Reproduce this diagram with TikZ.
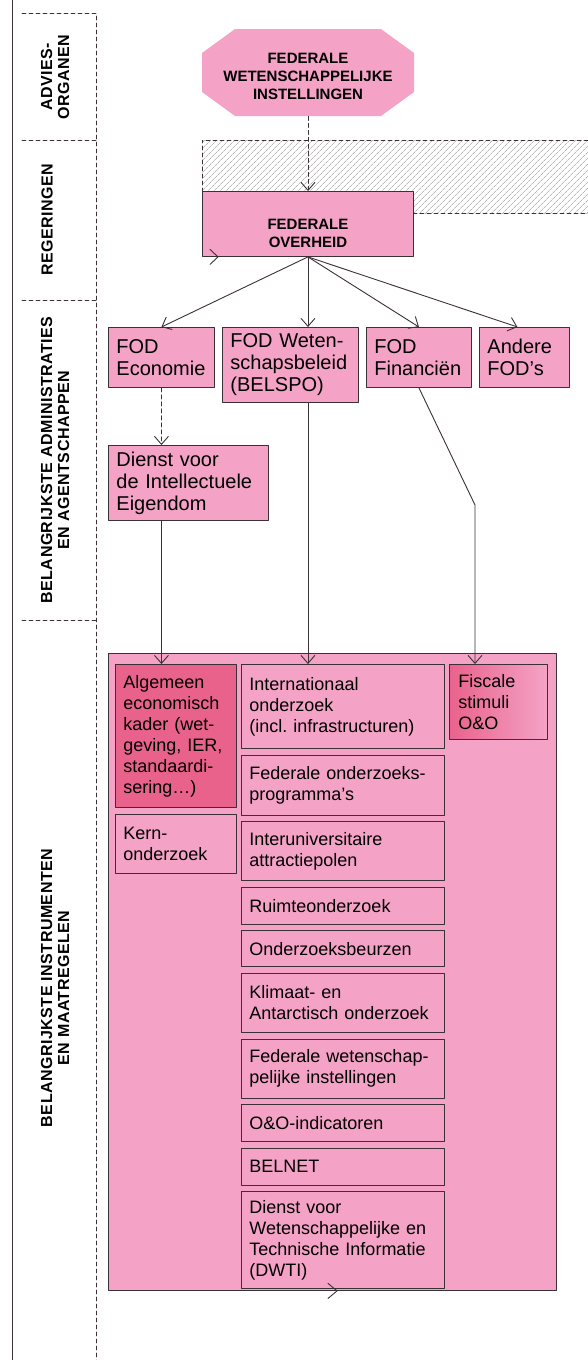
\documentclass[tikz,border=0pt]{standalone}
\usepackage{fontspec}
\setmainfont{Liberation Sans}
\newfontfamily\spacedfont[LetterSpace=3]{Liberation Sans}
\usepackage{tikz}
\usetikzlibrary{arrows.meta}
\usetikzlibrary{patterns.meta}
\usetikzlibrary{positioning}
\frenchspacing

\definecolor{lpink}{HTML}{F4A3C6}
\definecolor{dpink}{HTML}{E9628C}
\definecolor{lijn}{HTML}{3A3035}

\tikzset{
  side/.style={rotate=90,align=center,font=\spacedfont\bfseries\fontsize{16}{17}\selectfont},
  head/.style={align=center,font=\bfseries\fontsize{15}{18}\selectfont},
  fod/.style={draw=lijn,fill=lpink,anchor=north west,align=left,inner xsep=8pt,inner ysep=0pt,font=\fontsize{20}{22}\selectfont},
  ibox/.style={draw=lijn,fill=lpink,anchor=north west,align=left,inner xsep=8pt,inner ysep=0pt,font=\fontsize{18}{21}\selectfont},
  dashln/.style={dash pattern=on 4pt off 3pt}
}

\begin{document}
\begin{tikzpicture}[line cap=round,line join=round,line width=0.9pt,>={Straight Barb[length=8pt,width=14pt]},x=1pt,y=-1pt]
\useasboundingbox (0,0) rectangle (588,1360);
% kolom met niveaus
\draw[lijn] (12,0) -- (12,1360);
\draw[lijn,dashln] (22,13) -- (96,13) -- (96,1360);
\foreach \y in {140,300,620}
  \draw[lijn,dashln] (22,\y) -- (96,\y);
\node[side] (advies) at (55,77) {ADVIES-\\ORGANEN};
\node[side] (reg) at (47,220) {REGERINGEN};
\node[side] (adm) at (55,460) {BELANGRIJKSTE ADMINISTRATIES\\EN AGENTSCHAPPEN};
\node[side] (maatr) at (55,988) {BELANGRIJKSTE INSTRUMENTEN\\EN MAATREGELEN};

% gearceerde zone
\fill[pattern={Lines[angle=45,distance=4pt,line width=0.7pt]},pattern color=black!28] (202,140) rectangle (588,213);
\draw[lijn,dashln] (588,140) -- (202,140) -- (202,191);
\draw[lijn,dashln] (413,213) -- (588,213);

% adviesorgaan (achthoek)
\fill[lpink] (202,53) -- (235,29) -- (381,29) -- (414,53) -- (414,92) -- (381,116) -- (235,116) -- (202,92) -- cycle;
\node[head,minimum width=212pt,minimum height=80pt,inner sep=0pt] (fwi) at (308,76) {FEDERALE\\WETENSCHAPPELIJKE\\INSTELLINGEN};
\node[draw=lijn,fill=lpink,minimum width=211pt,minimum height=65pt,anchor=north west,label={[head,yshift=-9pt]center:{FEDERALE\\OVERHEID}}] (fo) at (202,191) {};

% administraties
\node[fod,text width=90pt,minimum height=60pt] (feco) at (108,327) {FOD\\Economie};
\node[fod,text width=120pt,minimum height=75pt] (fbel) at (222,327) {FOD Weten-\\schapsbeleid\\(BELSPO)};
\node[fod,text width=89pt,minimum height=60pt] (ffin) at (366,327) {FOD\\Financiën};
\node[fod,text width=74pt,minimum height=60pt] (fand) at (479,327) {Andere\\FOD’s};
\node[fod,text width=144pt,minimum height=75pt] (dienst) at (108,445) {Dienst voor\\de Intellectuele\\Eigendom};

% instrumenten
\node[draw=lijn,fill=lpink,anchor=north west,minimum width=448pt,minimum height=637pt] (instr) at (108,653) {};
\node[ibox,fill=dpink,text width=105pt,minimum height=143pt] (alg) at (115,664) {Algemeen\\economisch\\kader (wet-\\geving, IER,\\standaardi-\\sering…)};
\node[ibox,text width=105pt,minimum height=59pt,below=6pt of alg] (kern) {Kern-\\onderzoek};
\node[ibox,text width=187pt,minimum height=84pt] (intl) at (241,664) {Internationaal\\onderzoek\\(incl. infrastructuren)};
\node[ibox,text width=187pt,minimum height=60pt,below=5.7pt of intl] (fedprog) {Federale onderzoeks-\\programma’s};
\node[ibox,text width=187pt,minimum height=59pt,below=5.7pt of fedprog] (iap) {Interuniversitaire\\attractiepolen};
\node[ibox,text width=187pt,minimum height=37pt,below=5.7pt of iap] (ruimte) {Ruimteonderzoek};
\node[ibox,text width=187pt,minimum height=36pt,below=5.7pt of ruimte] (beurzen) {Onderzoeksbeurzen};
\node[ibox,text width=187pt,minimum height=59pt,below=5.7pt of beurzen] (klimaat) {Klimaat- en\\Antarctisch onderzoek};
\node[ibox,text width=187pt,minimum height=59pt,below=5.7pt of klimaat] (fwinst) {Federale wetenschap-\\pelijke instellingen};
\node[ibox,text width=187pt,minimum height=37pt,below=5.7pt of fwinst] (indic) {O\&O-indicatoren};
\node[ibox,text width=187pt,minimum height=37pt,below=5.7pt of indic] (belnet) {BELNET};
\node[ibox,text width=187pt,minimum height=97pt,below=5.7pt of belnet] (dwti) {Dienst voor\\Wetenschappelijke en\\Technische Informatie\\(DWTI)};
\node[ibox,left color=dpink,right color=lpink,inner xsep=9pt,text width=80pt,minimum height=75pt] (fisc) at (449,664) {Fiscale\\stimuli\\O\&O};

% verbindingen
\draw[lijn,dashln,->] (fwi.south) -- (fwi.south |- fo.north);
\draw[lijn,->] (fo.south) -- (feco.north);
\draw[lijn,->] (fo.south) -- (fo.south |- fbel.north);
\draw[lijn,->] (fo.south) -- (ffin.north);
\draw[lijn,->] (fo.south) -- ([xshift=-7pt]fand.north);
\draw[lijn,dashln,->] (feco.south) -- (feco.south |- dienst.north);
\draw[lijn,->] (feco.south |- dienst.south) -- (feco.south |- alg.north);
\draw[lijn,->] (fo.south |- fbel.south) -- (fo.south |- intl.north);
\coordinate (knik) at (475,505);
\draw[lijn,->] (ffin.south) -- (knik) -- (knik |- fisc.north);
\draw[lijn] (fo.south west) ++(8,-7.5) -- ++(8,7.5) -- ++(-8,7.5);
\draw[lijn] (instr.south west) ++(220,-7.5) -- ++(9,7.5) -- ++(-9,7.5);
\end{tikzpicture}
\end{document}
